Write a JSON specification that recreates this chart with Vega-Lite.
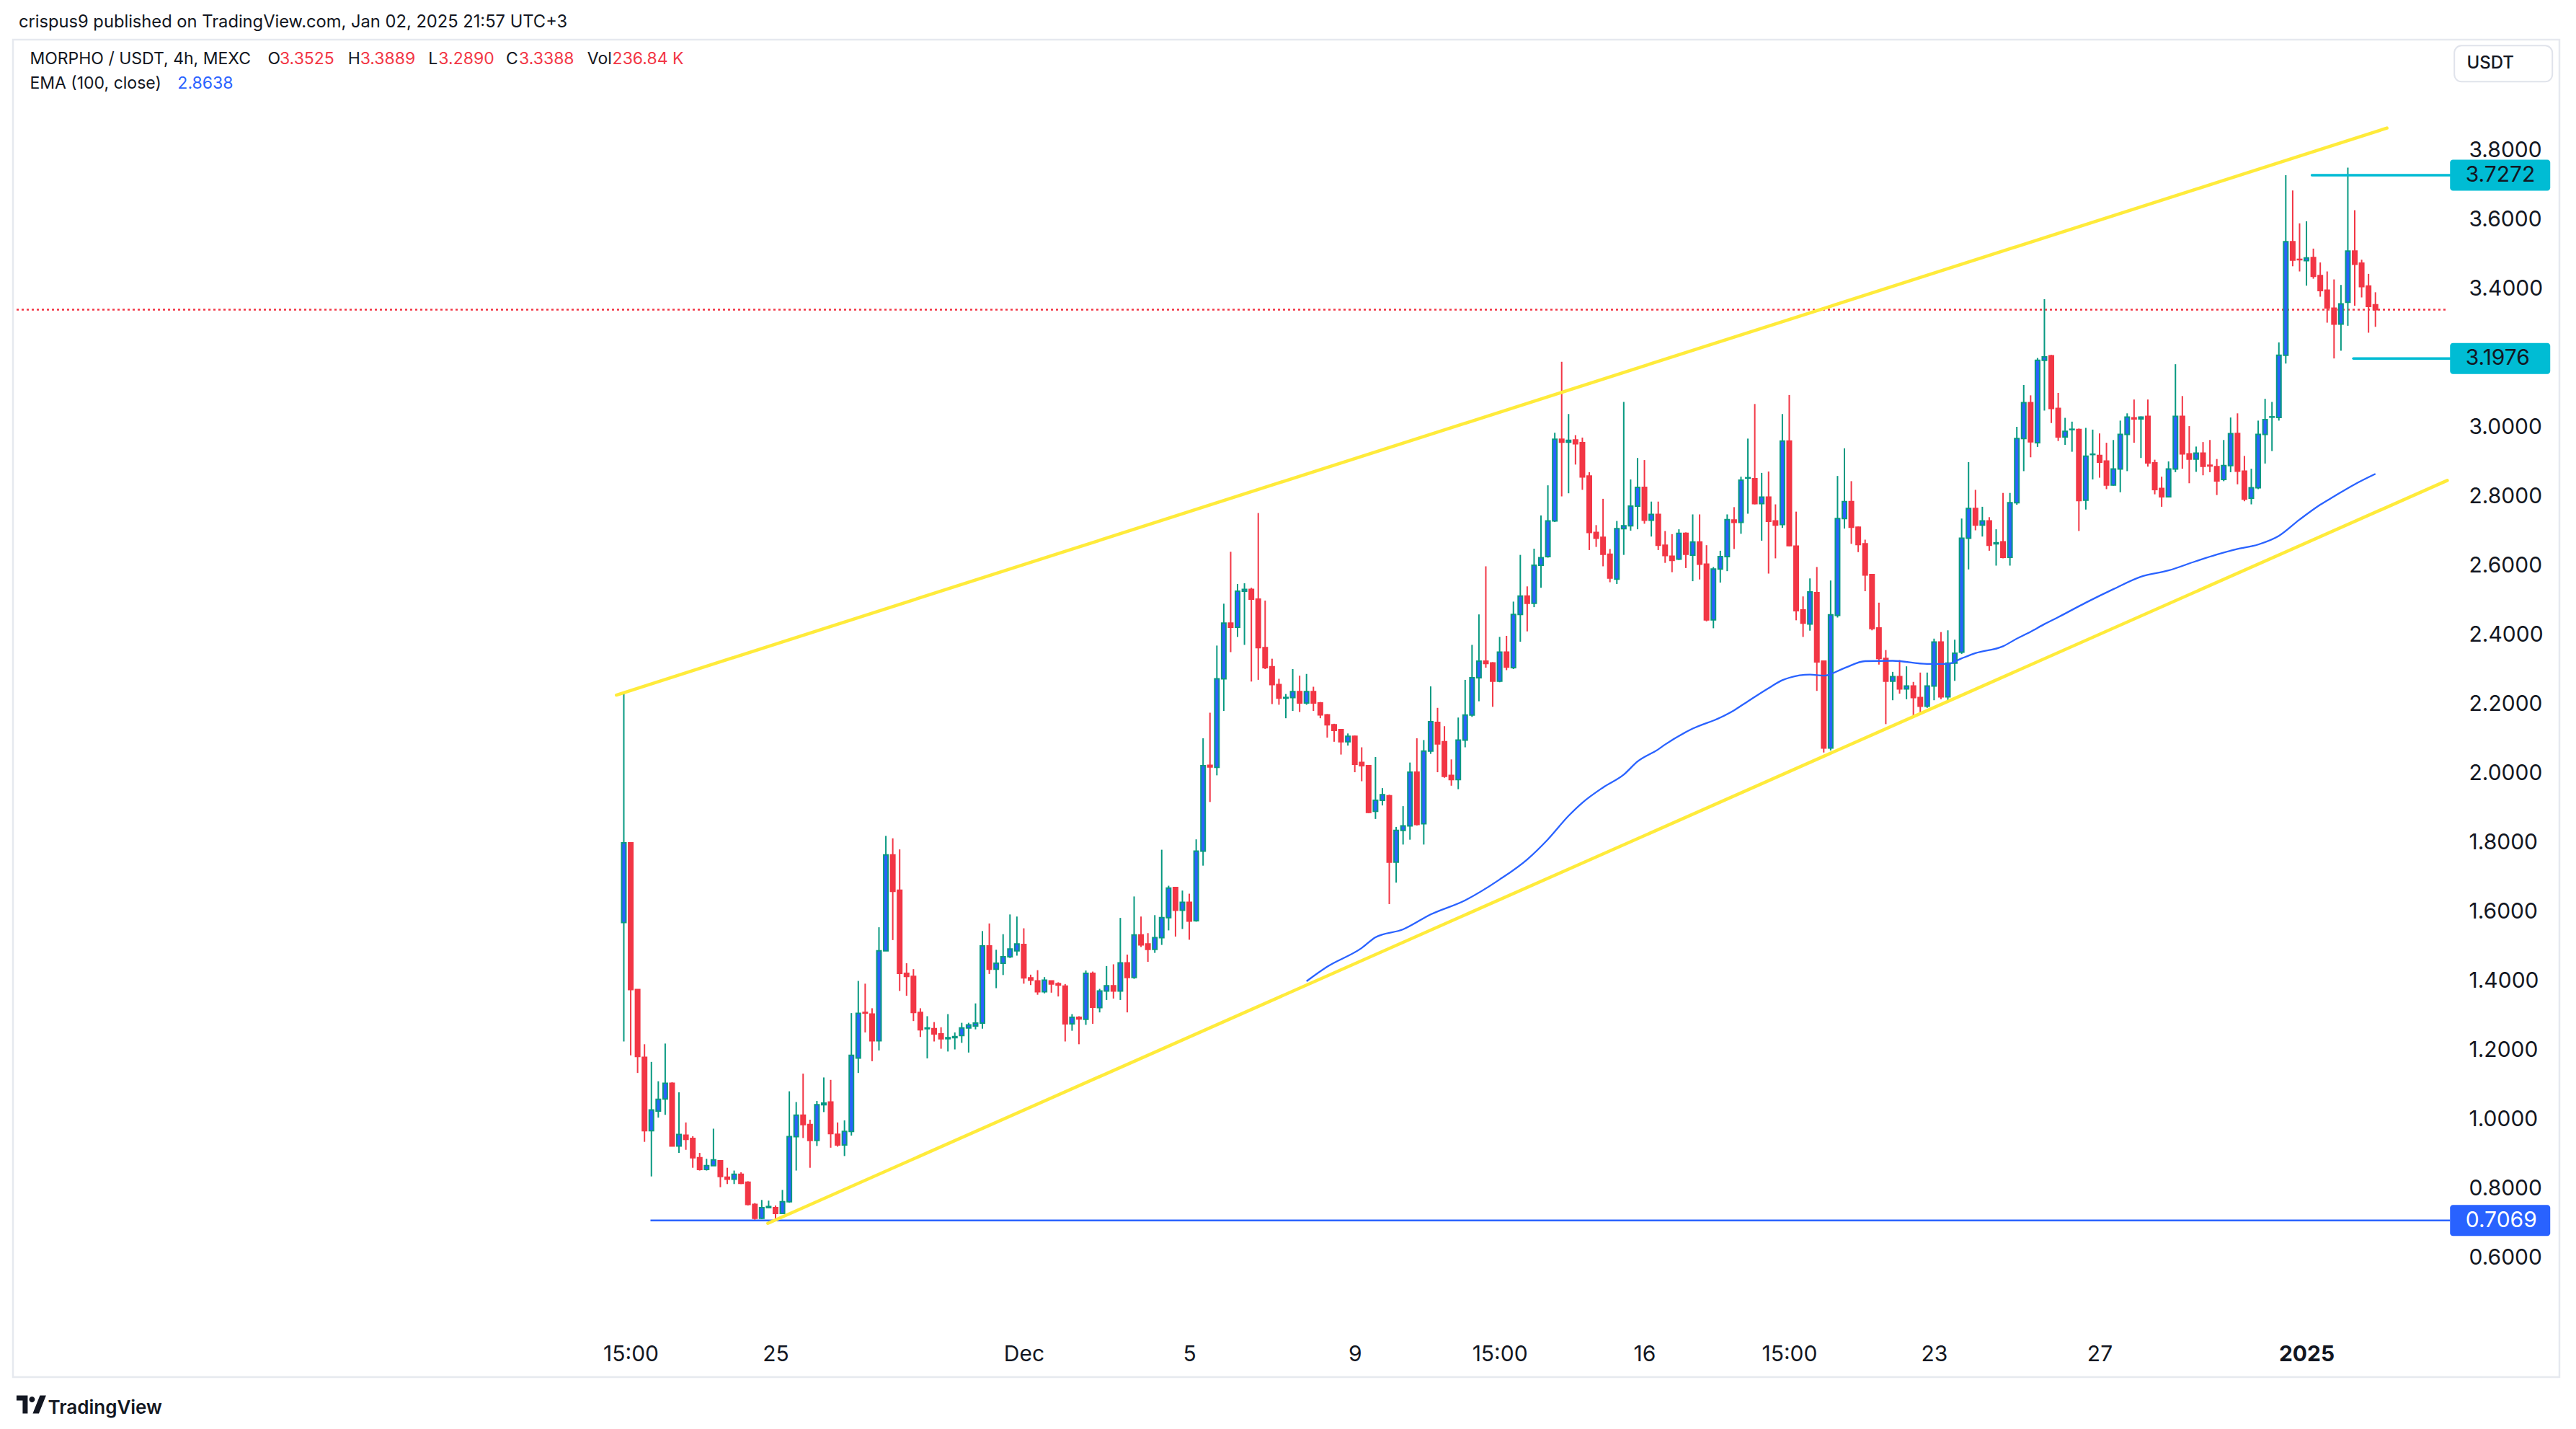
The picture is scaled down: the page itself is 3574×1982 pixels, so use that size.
{
  "$schema": "https://vega.github.io/schema/vega-lite/v6.json",
  "width": 3533,
  "height": 1855,
  "autosize": {"type": "none"},
  "padding": {"left": 18, "top": 55, "right": 23, "bottom": 72},
  "background": "white",
  "config": {"view": {"stroke": "#E6E9EF", "strokeWidth": 2.5}, "font": "Inter"},
  "encoding": {
    "x": {"field": "t", "type": "temporal", "title": "TradingView",
      "scale": {"domain": [{"year": 2024, "month": 11, "date": 6, "hours": 18, "minutes": 47}, {"year": 2025, "month": 1, "date": 7, "hours": 3, "minutes": 38}]},
      "axis": {
        "values": [
          {"year": 2024, "month": 11, "date": 21, "hours": 15},
          {"year": 2024, "month": 11, "date": 25, "hours": 3},
          {"year": 2024, "month": 12, "date": 1, "hours": 3},
          {"year": 2024, "month": 12, "date": 5, "hours": 3},
          {"year": 2024, "month": 12, "date": 9, "hours": 3},
          {"year": 2024, "month": 12, "date": 12, "hours": 15},
          {"year": 2024, "month": 12, "date": 16, "hours": 3},
          {"year": 2024, "month": 12, "date": 19, "hours": 15},
          {"year": 2024, "month": 12, "date": 23, "hours": 3},
          {"year": 2024, "month": 12, "date": 27, "hours": 3},
          {"year": 2025, "month": 1, "date": 1, "hours": 3}
        ],
        "labelExpr": "hours(datum.value) == 15 ? '15:00' : (month(datum.value) == 0 ? '2025' : (date(datum.value) == 1 ? 'Dec' : '' + date(datum.value)))",
        "labelFont": "Inter", "labelFontSize": 30, "labelColor": "#131722",
        "labelFontWeight": {"condition": {"test": "month(datum.value) == 0", "value": "bold"}, "value": "normal"},
        "domain": false, "ticks": false, "tickSize": 0, "grid": false,
        "labelPadding": 0, "offset": -47, "labelFlush": false, "labelOverlap": false, "labelBound": false,
        "titleX": 48, "titleY": 89, "titleAlign": "left", "titleBaseline": "middle",
        "titleFont": "Inter", "titleFontSize": 26, "titleFontWeight": 600, "titleColor": "#131722"
      }
    }
  },
  "layer": [
    {
      "data": {"values": [{"t": "2024-11-06T18:47", "t2": "2025-01-04T12:40", "p": 3.3388}], "format": {"parse": {"t": "date", "t2": "date"}}},
      "mark": {"type": "rule", "color": "#F23645", "strokeWidth": 2.5, "strokeDash": [3, 4]},
      "encoding": {"x2": {"field": "t2"}, "y": {"field": "p", "type": "quantitative", "title": null, "scale": {"domain": [0.2542, 4.1188], "zero": false, "nice": false}}}
    },
    {
      "data": {"values": [{"t": "2024-11-22T02:28", "t2": "2025-01-04T14:20", "p": 0.7069}], "format": {"parse": {"t": "date", "t2": "date"}}},
      "mark": {"type": "rule", "color": "#2962FF", "strokeWidth": 2.4},
      "encoding": {"x2": {"field": "t2"}, "y": {"field": "p", "type": "quantitative", "title": null, "scale": {"domain": [0.2542, 4.1188], "zero": false, "nice": false}}}
    },
    {
      "data": {"name": "candles"},
      "mark": {"type": "rule", "strokeWidth": 2},
      "encoding": {
        "y": {"field": "l", "type": "quantitative", "title": null, "scale": {"domain": [0.2542, 4.1188], "zero": false, "nice": false},
          "axis": {"orient": "right", "offset": -130, "values": [0.6, 0.8, 1.0, 1.2, 1.4, 1.6, 1.8, 2.0, 2.2, 2.4, 2.6, 2.8, 3.0, 3.4, 3.6, 3.8], "format": ".4f",
            "labelAlign": "left", "labelBaseline": "middle", "labelPadding": 4, "tickSize": 0, "ticks": false, "domain": false, "grid": false,
            "labelFont": "Inter", "labelFontSize": 30, "labelColor": "#131722", "labelOverlap": false, "labelBound": false, "labelFlush": false}},
        "y2": {"field": "h"},
        "color": {"condition": {"test": "datum.c >= datum.o", "value": "#089981"}, "value": "#F23645"}
      }
    },
    {
      "data": {"name": "candles"},
      "mark": {"type": "bar", "size": 6, "strokeWidth": 2},
      "encoding": {
        "y": {"field": "o", "type": "quantitative", "title": null, "scale": {"domain": [0.2542, 4.1188], "zero": false, "nice": false}},
        "y2": {"field": "c"},
        "fill": {"condition": {"test": "datum.c >= datum.o", "value": "#2962FF"}, "value": "#F23645"},
        "stroke": {"condition": {"test": "datum.c >= datum.o", "value": "#089981"}, "value": "#F23645"}
      }
    },
    {
      "data": {"name": "ema"},
      "mark": {"type": "line", "color": "#2962FF", "strokeWidth": 2.3, "interpolate": "monotone"},
      "encoding": {"y": {"field": "p", "type": "quantitative", "title": null, "scale": {"domain": [0.2542, 4.1188], "zero": false, "nice": false}}}
    },
    {
      "data": {"values": [
        {"t": "2024-11-21T06:42", "t2": "2025-01-03T01:40", "p": 2.225, "p2": 3.8633},
        {"t": "2024-11-24T22:33", "t2": "2025-01-04T12:40", "p": 0.6985, "p2": 2.845}
      ], "format": {"parse": {"t": "date", "t2": "date"}}},
      "mark": {"type": "rule", "color": "#FFEB3B", "strokeWidth": 4.5, "strokeCap": "round"},
      "encoding": {"x2": {"field": "t2"}, "y": {"field": "p", "type": "quantitative", "title": null, "scale": {"domain": [0.2542, 4.1188], "zero": false, "nice": false}}, "y2": {"field": "p2"}}
    },
    {
      "data": {"values": [
        {"t": "2025-01-01T06:08", "t2": "2025-01-04T14:20", "p": 3.7272},
        {"t": "2025-01-02T06:12", "t2": "2025-01-04T14:20", "p": 3.1976}
      ], "format": {"parse": {"t": "date", "t2": "date"}}},
      "mark": {"type": "rule", "color": "#00BCD4", "strokeWidth": 3.5, "strokeCap": "round"},
      "encoding": {"x2": {"field": "t2"}, "y": {"field": "p", "type": "quantitative", "title": null, "scale": {"domain": [0.2542, 4.1188], "zero": false, "nice": false}}}
    },
    {
      "data": {"name": "pricelabels"},
      "mark": {"type": "point", "filled": true, "opacity": 1, "strokeWidth": 0, "size": 19321,
        "shape": "M-0.9424,-0.3094 H0.9424 A0.0576,0.0576 0 0 1 1,-0.2518 V0.2518 A0.0576,0.0576 0 0 1 0.9424,0.3094 H-0.9424 A0.0576,0.0576 0 0 1 -1,0.2518 V-0.2518 A0.0576,0.0576 0 0 1 -0.9424,-0.3094 Z"},
      "encoding": {
        "y": {"field": "p", "type": "quantitative", "title": null, "scale": {"domain": [0.2542, 4.1188], "zero": false, "nice": false}},
        "fill": {"condition": {"test": "datum.kind == 'blue'", "value": "#2962FF"}, "value": "#00BCD4"}
      }
    },
    {
      "data": {"name": "pricelabels"},
      "mark": {"type": "text", "align": "left", "baseline": "middle", "font": "Inter", "fontSize": 30, "dx": -48},
      "encoding": {
        "y": {"field": "p", "type": "quantitative", "title": null, "scale": {"domain": [0.2542, 4.1188], "zero": false, "nice": false}},
        "text": {"field": "label"},
        "color": {"condition": {"test": "datum.kind == 'blue'", "value": "#FFFFFF"}, "value": "#131722"}
      }
    },
    {
      "data": {"name": "currency"},
      "mark": {"type": "point", "filled": true, "opacity": 1, "fill": "#FFFFFF", "stroke": "#E0E3EB", "strokeWidth": 2, "size": 18496,
        "shape": "M-0.853,-0.3676 H0.853 A0.147,0.147 0 0 1 1,-0.2206 V0.2206 A0.147,0.147 0 0 1 0.853,0.3676 H-0.853 A0.147,0.147 0 0 1 -1,0.2206 V-0.2206 A0.147,0.147 0 0 1 -0.853,-0.3676 Z"},
      "encoding": {
        "y": {"field": "p", "type": "quantitative", "title": null, "scale": {"domain": [0.2542, 4.1188], "zero": false, "nice": false}}
      }
    },
    {
      "data": {"name": "currency"},
      "mark": {"type": "text", "align": "center", "baseline": "middle", "font": "Inter", "fontSize": 24, "fontWeight": 500, "color": "#131722", "dx": -18},
      "encoding": {
        "y": {"field": "p", "type": "quantitative", "title": null, "scale": {"domain": [0.2542, 4.1188], "zero": false, "nice": false}},
        "text": {"field": "label"}
      }
    },
    {
      "data": {"name": "logo"},
      "mark": {"type": "point", "filled": true, "opacity": 1, "fill": "#131722", "strokeWidth": 0, "size": 1681,
        "shape": "M-1,-0.61 H-0.244 V0.61 H-0.585 V-0.268 H-1 Z M-0.146,-0.341 A0.195,0.195 0 1 0 0.244,-0.341 A0.195,0.195 0 1 0 -0.146,-0.341 Z M0.585,-0.61 H1 L0.512,0.61 H0.098 Z"},
      "encoding": {
        "y": {"field": "p", "type": "quantitative", "title": null, "scale": {"domain": [0.2542, 4.1188], "zero": false, "nice": false}}
      }
    },
    {
      "data": {"name": "legend"},
      "mark": {"type": "text", "align": "left", "baseline": "alphabetic", "font": "Inter"},
      "encoding": {
        "y": {"field": "p", "type": "quantitative", "title": null, "scale": {"domain": [0.2542, 4.1188], "zero": false, "nice": false}},
        "text": {"field": "text"},
        "size": {"condition": {"test": "datum.role == 'title'", "value": 23.7}, "value": 23},
        "color": {"condition": [{"test": "datum.role == 'value'", "value": "#F23645"}, {"test": "datum.role == 'ema'", "value": "#2962FF"}], "value": "#131722"}
      }
    }
  ],
  "datasets": {
    "pricelabels": [
      {"t": "2025-01-05T19:20", "p": 3.7272, "label": "3.7272", "kind": "cyan"},
      {"t": "2025-01-05T19:20", "p": 3.1976, "label": "3.1976", "kind": "cyan"},
      {"t": "2025-01-05T19:20", "p": 0.7069, "label": "0.7069", "kind": "blue"}
    ],
    "currency": [
      {"t": "2025-01-05T21:12", "p": 4.0494, "label": "USDT"}
    ],
    "logo": [
      {"t": "2024-11-07T03:19", "p": 0.175}
    ],
    "legend": [
      {"t": "2024-11-06T20:01", "p": 4.1542, "text": "crispus9 published on TradingView.com, Jan 02, 2025 21:57 UTC+3", "role": "title"},
      {"t": "2024-11-07T02:29", "p": 4.047, "text": "MORPHO / USDT, 4h, MEXC", "role": "label"},
      {"t": "2024-11-12T20:31", "p": 4.047, "text": "O", "role": "label"},
      {"t": "2024-11-13T03:21", "p": 4.047, "text": "3.3525", "role": "value"},
      {"t": "2024-11-14T18:58", "p": 4.047, "text": "H", "role": "label"},
      {"t": "2024-11-15T02:03", "p": 4.047, "text": "3.3889", "role": "value"},
      {"t": "2024-11-16T17:39", "p": 4.047, "text": "L", "role": "label"},
      {"t": "2024-11-16T23:29", "p": 4.047, "text": "3.2890", "role": "value"},
      {"t": "2024-11-18T14:40", "p": 4.047, "text": "C", "role": "label"},
      {"t": "2024-11-18T22:11", "p": 4.047, "text": "3.3388", "role": "value"},
      {"t": "2024-11-20T13:47", "p": 4.047, "text": "Vol", "role": "label"},
      {"t": "2024-11-21T04:22", "p": 4.047, "text": "236.84 K", "role": "value"},
      {"t": "2024-11-07T02:29", "p": 3.977, "text": "EMA (100, close)", "role": "label"},
      {"t": "2024-11-10T16:10", "p": 3.977, "text": "2.8638", "role": "ema"}
    ],
    "ema": [
      {"t": "2024-12-07T23:00", "p": 1.398}, {"t": "2024-12-08T11:00", "p": 1.440}, {"t": "2024-12-09T07:00", "p": 1.494},
      {"t": "2024-12-09T15:00", "p": 1.525}, {"t": "2024-12-10T07:00", "p": 1.548}, {"t": "2024-12-10T23:00", "p": 1.591},
      {"t": "2024-12-11T19:00", "p": 1.632}, {"t": "2024-12-12T15:00", "p": 1.692}, {"t": "2024-12-13T07:00", "p": 1.750},
      {"t": "2024-12-13T19:00", "p": 1.808}, {"t": "2024-12-14T07:00", "p": 1.876}, {"t": "2024-12-14T15:00", "p": 1.914},
      {"t": "2024-12-15T03:00", "p": 1.958}, {"t": "2024-12-15T15:00", "p": 1.995}, {"t": "2024-12-15T23:00", "p": 2.033},
      {"t": "2024-12-16T11:00", "p": 2.068}, {"t": "2024-12-16T15:00", "p": 2.082}, {"t": "2024-12-17T07:00", "p": 2.128},
      {"t": "2024-12-17T23:00", "p": 2.160}, {"t": "2024-12-18T07:00", "p": 2.181}, {"t": "2024-12-18T15:00", "p": 2.207},
      {"t": "2024-12-19T03:00", "p": 2.245}, {"t": "2024-12-19T11:00", "p": 2.268}, {"t": "2024-12-19T15:00", "p": 2.275},
      {"t": "2024-12-20T03:00", "p": 2.284}, {"t": "2024-12-20T11:00", "p": 2.281}, {"t": "2024-12-20T23:00", "p": 2.303},
      {"t": "2024-12-21T11:00", "p": 2.323}, {"t": "2024-12-22T03:00", "p": 2.324}, {"t": "2024-12-22T23:00", "p": 2.315},
      {"t": "2024-12-23T11:00", "p": 2.315}, {"t": "2024-12-23T19:00", "p": 2.331}, {"t": "2024-12-24T03:00", "p": 2.346},
      {"t": "2024-12-24T19:00", "p": 2.366}, {"t": "2024-12-25T03:00", "p": 2.388}, {"t": "2024-12-25T11:00", "p": 2.408},
      {"t": "2024-12-25T19:00", "p": 2.430}, {"t": "2024-12-26T03:00", "p": 2.450}, {"t": "2024-12-26T19:00", "p": 2.492},
      {"t": "2024-12-27T11:00", "p": 2.531}, {"t": "2024-12-28T03:00", "p": 2.567}, {"t": "2024-12-28T19:00", "p": 2.585},
      {"t": "2024-12-29T11:00", "p": 2.612}, {"t": "2024-12-29T23:00", "p": 2.631}, {"t": "2024-12-30T11:00", "p": 2.647},
      {"t": "2024-12-30T23:00", "p": 2.660}, {"t": "2024-12-31T11:00", "p": 2.685}, {"t": "2024-12-31T23:00", "p": 2.732},
      {"t": "2025-01-01T11:00", "p": 2.775}, {"t": "2025-01-01T19:00", "p": 2.799}, {"t": "2025-01-02T07:00", "p": 2.834},
      {"t": "2025-01-02T19:00", "p": 2.864}
    ],
    "candles": [
      {"t": "2024-11-21T11:00", "o": 1.568, "h": 2.231, "l": 1.224, "c": 1.798},
      {"t": "2024-11-21T15:00", "o": 1.798, "h": 1.798, "l": 1.184, "c": 1.374},
      {"t": "2024-11-21T19:00", "o": 1.374, "h": 1.374, "l": 1.133, "c": 1.181},
      {"t": "2024-11-21T23:00", "o": 1.178, "h": 1.216, "l": 0.934, "c": 0.966},
      {"t": "2024-11-22T03:00", "o": 0.966, "h": 1.165, "l": 0.834, "c": 1.026},
      {"t": "2024-11-22T07:00", "o": 1.023, "h": 1.109, "l": 1.004, "c": 1.057},
      {"t": "2024-11-22T11:00", "o": 1.058, "h": 1.218, "l": 1.012, "c": 1.103},
      {"t": "2024-11-22T15:00", "o": 1.103, "h": 1.106, "l": 0.922, "c": 0.922},
      {"t": "2024-11-22T19:00", "o": 0.922, "h": 1.077, "l": 0.902, "c": 0.955},
      {"t": "2024-11-22T23:00", "o": 0.953, "h": 0.990, "l": 0.911, "c": 0.941},
      {"t": "2024-11-23T03:00", "o": 0.944, "h": 0.950, "l": 0.859, "c": 0.888},
      {"t": "2024-11-23T07:00", "o": 0.888, "h": 0.902, "l": 0.851, "c": 0.854},
      {"t": "2024-11-23T11:00", "o": 0.854, "h": 0.885, "l": 0.851, "c": 0.865},
      {"t": "2024-11-23T15:00", "o": 0.865, "h": 0.972, "l": 0.865, "c": 0.882},
      {"t": "2024-11-23T19:00", "o": 0.879, "h": 0.881, "l": 0.803, "c": 0.834},
      {"t": "2024-11-23T23:00", "o": 0.832, "h": 0.859, "l": 0.812, "c": 0.826},
      {"t": "2024-11-24T03:00", "o": 0.826, "h": 0.851, "l": 0.812, "c": 0.840},
      {"t": "2024-11-24T07:00", "o": 0.840, "h": 0.846, "l": 0.812, "c": 0.814},
      {"t": "2024-11-24T11:00", "o": 0.817, "h": 0.820, "l": 0.750, "c": 0.753},
      {"t": "2024-11-24T15:00", "o": 0.753, "h": 0.757, "l": 0.709, "c": 0.713},
      {"t": "2024-11-24T19:00", "o": 0.713, "h": 0.766, "l": 0.711, "c": 0.744},
      {"t": "2024-11-24T23:00", "o": 0.744, "h": 0.764, "l": 0.742, "c": 0.747},
      {"t": "2024-11-25T03:00", "o": 0.744, "h": 0.750, "l": 0.7069, "c": 0.727},
      {"t": "2024-11-25T07:00", "o": 0.727, "h": 0.795, "l": 0.725, "c": 0.761},
      {"t": "2024-11-25T11:00", "o": 0.761, "h": 1.080, "l": 0.758, "c": 0.949},
      {"t": "2024-11-25T15:00", "o": 0.949, "h": 1.049, "l": 0.851, "c": 1.011},
      {"t": "2024-11-25T19:00", "o": 1.011, "h": 1.131, "l": 0.945, "c": 0.984},
      {"t": "2024-11-25T23:00", "o": 0.984, "h": 0.998, "l": 0.859, "c": 0.938},
      {"t": "2024-11-26T03:00", "o": 0.938, "h": 1.052, "l": 0.922, "c": 1.041},
      {"t": "2024-11-26T07:00", "o": 1.041, "h": 1.120, "l": 1.020, "c": 1.046},
      {"t": "2024-11-26T11:00", "o": 1.049, "h": 1.113, "l": 0.917, "c": 0.958},
      {"t": "2024-11-26T15:00", "o": 0.956, "h": 0.990, "l": 0.920, "c": 0.925},
      {"t": "2024-11-26T19:00", "o": 0.925, "h": 0.996, "l": 0.893, "c": 0.964},
      {"t": "2024-11-26T23:00", "o": 0.964, "h": 1.306, "l": 0.952, "c": 1.184},
      {"t": "2024-11-27T03:00", "o": 1.176, "h": 1.399, "l": 1.133, "c": 1.305},
      {"t": "2024-11-27T07:00", "o": 1.308, "h": 1.391, "l": 1.250, "c": 1.306},
      {"t": "2024-11-27T11:00", "o": 1.303, "h": 1.320, "l": 1.167, "c": 1.226},
      {"t": "2024-11-27T15:00", "o": 1.226, "h": 1.554, "l": 1.198, "c": 1.486},
      {"t": "2024-11-27T19:00", "o": 1.486, "h": 1.818, "l": 1.486, "c": 1.763},
      {"t": "2024-11-27T23:00", "o": 1.763, "h": 1.811, "l": 1.517, "c": 1.658},
      {"t": "2024-11-28T03:00", "o": 1.661, "h": 1.779, "l": 1.370, "c": 1.421},
      {"t": "2024-11-28T07:00", "o": 1.421, "h": 1.450, "l": 1.356, "c": 1.412},
      {"t": "2024-11-28T11:00", "o": 1.412, "h": 1.433, "l": 1.283, "c": 1.308},
      {"t": "2024-11-28T15:00", "o": 1.308, "h": 1.320, "l": 1.237, "c": 1.258},
      {"t": "2024-11-28T19:00", "o": 1.261, "h": 1.297, "l": 1.175, "c": 1.263},
      {"t": "2024-11-28T23:00", "o": 1.261, "h": 1.280, "l": 1.224, "c": 1.246},
      {"t": "2024-11-29T03:00", "o": 1.246, "h": 1.265, "l": 1.203, "c": 1.232},
      {"t": "2024-11-29T07:00", "o": 1.232, "h": 1.303, "l": 1.195, "c": 1.235},
      {"t": "2024-11-29T11:00", "o": 1.235, "h": 1.250, "l": 1.201, "c": 1.238},
      {"t": "2024-11-29T15:00", "o": 1.241, "h": 1.278, "l": 1.220, "c": 1.263},
      {"t": "2024-11-29T19:00", "o": 1.263, "h": 1.278, "l": 1.192, "c": 1.272},
      {"t": "2024-11-29T23:00", "o": 1.269, "h": 1.334, "l": 1.259, "c": 1.277},
      {"t": "2024-11-30T03:00", "o": 1.277, "h": 1.543, "l": 1.261, "c": 1.500},
      {"t": "2024-11-30T07:00", "o": 1.500, "h": 1.565, "l": 1.419, "c": 1.433},
      {"t": "2024-11-30T11:00", "o": 1.433, "h": 1.489, "l": 1.378, "c": 1.450},
      {"t": "2024-11-30T15:00", "o": 1.450, "h": 1.534, "l": 1.416, "c": 1.469},
      {"t": "2024-11-30T19:00", "o": 1.469, "h": 1.591, "l": 1.465, "c": 1.491},
      {"t": "2024-11-30T23:00", "o": 1.486, "h": 1.585, "l": 1.472, "c": 1.506},
      {"t": "2024-12-01T03:00", "o": 1.504, "h": 1.551, "l": 1.391, "c": 1.408},
      {"t": "2024-12-01T07:00", "o": 1.408, "h": 1.417, "l": 1.387, "c": 1.401},
      {"t": "2024-12-01T11:00", "o": 1.399, "h": 1.430, "l": 1.359, "c": 1.368},
      {"t": "2024-12-01T15:00", "o": 1.368, "h": 1.410, "l": 1.363, "c": 1.401},
      {"t": "2024-12-01T19:00", "o": 1.399, "h": 1.400, "l": 1.365, "c": 1.390},
      {"t": "2024-12-01T23:00", "o": 1.391, "h": 1.395, "l": 1.354, "c": 1.387},
      {"t": "2024-12-02T03:00", "o": 1.384, "h": 1.390, "l": 1.224, "c": 1.275},
      {"t": "2024-12-02T07:00", "o": 1.275, "h": 1.303, "l": 1.255, "c": 1.294},
      {"t": "2024-12-02T11:00", "o": 1.294, "h": 1.297, "l": 1.216, "c": 1.289},
      {"t": "2024-12-02T15:00", "o": 1.288, "h": 1.429, "l": 1.272, "c": 1.421},
      {"t": "2024-12-02T19:00", "o": 1.421, "h": 1.426, "l": 1.275, "c": 1.323},
      {"t": "2024-12-02T23:00", "o": 1.322, "h": 1.376, "l": 1.308, "c": 1.370},
      {"t": "2024-12-03T03:00", "o": 1.370, "h": 1.442, "l": 1.344, "c": 1.385},
      {"t": "2024-12-03T07:00", "o": 1.385, "h": 1.447, "l": 1.348, "c": 1.370},
      {"t": "2024-12-03T11:00", "o": 1.370, "h": 1.581, "l": 1.344, "c": 1.451},
      {"t": "2024-12-03T15:00", "o": 1.451, "h": 1.475, "l": 1.308, "c": 1.409},
      {"t": "2024-12-03T19:00", "o": 1.409, "h": 1.643, "l": 1.405, "c": 1.532},
      {"t": "2024-12-03T23:00", "o": 1.532, "h": 1.585, "l": 1.497, "c": 1.503},
      {"t": "2024-12-04T03:00", "o": 1.506, "h": 1.537, "l": 1.454, "c": 1.490},
      {"t": "2024-12-04T07:00", "o": 1.490, "h": 1.589, "l": 1.480, "c": 1.524},
      {"t": "2024-12-04T11:00", "o": 1.524, "h": 1.778, "l": 1.503, "c": 1.582},
      {"t": "2024-12-04T15:00", "o": 1.582, "h": 1.674, "l": 1.545, "c": 1.667},
      {"t": "2024-12-04T19:00", "o": 1.669, "h": 1.669, "l": 1.527, "c": 1.603},
      {"t": "2024-12-04T23:00", "o": 1.603, "h": 1.660, "l": 1.549, "c": 1.626},
      {"t": "2024-12-05T03:00", "o": 1.626, "h": 1.651, "l": 1.518, "c": 1.572},
      {"t": "2024-12-05T07:00", "o": 1.573, "h": 1.808, "l": 1.570, "c": 1.774},
      {"t": "2024-12-05T11:00", "o": 1.774, "h": 2.100, "l": 1.732, "c": 2.021},
      {"t": "2024-12-05T15:00", "o": 2.022, "h": 2.174, "l": 1.916, "c": 2.017},
      {"t": "2024-12-05T19:00", "o": 2.016, "h": 2.368, "l": 1.993, "c": 2.272},
      {"t": "2024-12-05T23:00", "o": 2.272, "h": 2.489, "l": 2.179, "c": 2.433},
      {"t": "2024-12-06T03:00", "o": 2.433, "h": 2.639, "l": 2.349, "c": 2.421},
      {"t": "2024-12-06T07:00", "o": 2.421, "h": 2.546, "l": 2.393, "c": 2.525},
      {"t": "2024-12-06T11:00", "o": 2.525, "h": 2.548, "l": 2.370, "c": 2.530},
      {"t": "2024-12-06T15:00", "o": 2.530, "h": 2.535, "l": 2.264, "c": 2.502},
      {"t": "2024-12-06T19:00", "o": 2.502, "h": 2.751, "l": 2.269, "c": 2.362},
      {"t": "2024-12-06T23:00", "o": 2.362, "h": 2.498, "l": 2.300, "c": 2.304},
      {"t": "2024-12-07T03:00", "o": 2.307, "h": 2.330, "l": 2.199, "c": 2.255},
      {"t": "2024-12-07T07:00", "o": 2.255, "h": 2.272, "l": 2.197, "c": 2.216},
      {"t": "2024-12-07T11:00", "o": 2.216, "h": 2.228, "l": 2.158, "c": 2.218},
      {"t": "2024-12-07T15:00", "o": 2.218, "h": 2.300, "l": 2.179, "c": 2.235},
      {"t": "2024-12-07T19:00", "o": 2.235, "h": 2.281, "l": 2.176, "c": 2.202},
      {"t": "2024-12-07T23:00", "o": 2.202, "h": 2.286, "l": 2.197, "c": 2.235},
      {"t": "2024-12-08T03:00", "o": 2.235, "h": 2.249, "l": 2.179, "c": 2.202},
      {"t": "2024-12-08T07:00", "o": 2.202, "h": 2.205, "l": 2.158, "c": 2.168},
      {"t": "2024-12-08T11:00", "o": 2.168, "h": 2.170, "l": 2.102, "c": 2.139},
      {"t": "2024-12-08T15:00", "o": 2.139, "h": 2.142, "l": 2.090, "c": 2.123},
      {"t": "2024-12-08T19:00", "o": 2.125, "h": 2.127, "l": 2.053, "c": 2.090},
      {"t": "2024-12-08T23:00", "o": 2.090, "h": 2.114, "l": 2.079, "c": 2.106},
      {"t": "2024-12-09T03:00", "o": 2.106, "h": 2.108, "l": 2.002, "c": 2.025},
      {"t": "2024-12-09T07:00", "o": 2.030, "h": 2.074, "l": 1.976, "c": 2.021},
      {"t": "2024-12-09T11:00", "o": 2.021, "h": 2.023, "l": 1.884, "c": 1.886},
      {"t": "2024-12-09T15:00", "o": 1.889, "h": 2.046, "l": 1.867, "c": 1.921},
      {"t": "2024-12-09T19:00", "o": 1.921, "h": 1.956, "l": 1.906, "c": 1.937},
      {"t": "2024-12-09T23:00", "o": 1.934, "h": 1.937, "l": 1.621, "c": 1.742},
      {"t": "2024-12-10T03:00", "o": 1.742, "h": 1.844, "l": 1.683, "c": 1.834},
      {"t": "2024-12-10T07:00", "o": 1.834, "h": 1.904, "l": 1.793, "c": 1.847},
      {"t": "2024-12-10T11:00", "o": 1.847, "h": 2.030, "l": 1.807, "c": 2.002},
      {"t": "2024-12-10T15:00", "o": 2.002, "h": 2.100, "l": 1.848, "c": 1.851},
      {"t": "2024-12-10T19:00", "o": 1.853, "h": 2.095, "l": 1.793, "c": 2.063},
      {"t": "2024-12-10T23:00", "o": 2.063, "h": 2.250, "l": 2.055, "c": 2.148},
      {"t": "2024-12-11T03:00", "o": 2.146, "h": 2.188, "l": 2.002, "c": 2.084},
      {"t": "2024-12-11T07:00", "o": 2.090, "h": 2.135, "l": 1.986, "c": 1.990},
      {"t": "2024-12-11T11:00", "o": 1.993, "h": 2.039, "l": 1.963, "c": 1.981},
      {"t": "2024-12-11T15:00", "o": 1.981, "h": 2.160, "l": 1.953, "c": 2.095},
      {"t": "2024-12-11T19:00", "o": 2.095, "h": 2.269, "l": 2.074, "c": 2.167},
      {"t": "2024-12-11T23:00", "o": 2.167, "h": 2.370, "l": 2.162, "c": 2.275},
      {"t": "2024-12-12T03:00", "o": 2.275, "h": 2.458, "l": 2.207, "c": 2.323},
      {"t": "2024-12-12T07:00", "o": 2.323, "h": 2.597, "l": 2.304, "c": 2.316},
      {"t": "2024-12-12T11:00", "o": 2.318, "h": 2.320, "l": 2.191, "c": 2.265},
      {"t": "2024-12-12T15:00", "o": 2.265, "h": 2.393, "l": 2.262, "c": 2.349},
      {"t": "2024-12-12T19:00", "o": 2.349, "h": 2.396, "l": 2.297, "c": 2.306},
      {"t": "2024-12-12T23:00", "o": 2.304, "h": 2.495, "l": 2.300, "c": 2.458},
      {"t": "2024-12-13T03:00", "o": 2.458, "h": 2.630, "l": 2.379, "c": 2.511},
      {"t": "2024-12-13T07:00", "o": 2.511, "h": 2.539, "l": 2.409, "c": 2.490},
      {"t": "2024-12-13T11:00", "o": 2.490, "h": 2.648, "l": 2.479, "c": 2.600},
      {"t": "2024-12-13T15:00", "o": 2.600, "h": 2.744, "l": 2.535, "c": 2.622},
      {"t": "2024-12-13T19:00", "o": 2.625, "h": 2.831, "l": 2.622, "c": 2.728},
      {"t": "2024-12-13T23:00", "o": 2.728, "h": 2.983, "l": 2.725, "c": 2.964},
      {"t": "2024-12-14T03:00", "o": 2.964, "h": 3.188, "l": 2.799, "c": 2.956},
      {"t": "2024-12-14T07:00", "o": 2.956, "h": 3.037, "l": 2.808, "c": 2.961},
      {"t": "2024-12-14T11:00", "o": 2.962, "h": 2.976, "l": 2.891, "c": 2.951},
      {"t": "2024-12-14T15:00", "o": 2.954, "h": 2.969, "l": 2.818, "c": 2.855},
      {"t": "2024-12-14T19:00", "o": 2.858, "h": 2.869, "l": 2.644, "c": 2.695},
      {"t": "2024-12-14T23:00", "o": 2.695, "h": 2.716, "l": 2.653, "c": 2.678},
      {"t": "2024-12-15T03:00", "o": 2.681, "h": 2.792, "l": 2.597, "c": 2.632},
      {"t": "2024-12-15T07:00", "o": 2.632, "h": 2.647, "l": 2.551, "c": 2.563},
      {"t": "2024-12-15T11:00", "o": 2.560, "h": 2.728, "l": 2.546, "c": 2.706},
      {"t": "2024-12-15T15:00", "o": 2.706, "h": 3.072, "l": 2.630, "c": 2.714},
      {"t": "2024-12-15T19:00", "o": 2.714, "h": 2.848, "l": 2.700, "c": 2.771},
      {"t": "2024-12-15T23:00", "o": 2.771, "h": 2.910, "l": 2.704, "c": 2.825},
      {"t": "2024-12-16T03:00", "o": 2.825, "h": 2.904, "l": 2.720, "c": 2.730},
      {"t": "2024-12-16T07:00", "o": 2.730, "h": 2.784, "l": 2.683, "c": 2.747},
      {"t": "2024-12-16T11:00", "o": 2.747, "h": 2.784, "l": 2.644, "c": 2.658},
      {"t": "2024-12-16T15:00", "o": 2.658, "h": 2.699, "l": 2.607, "c": 2.628},
      {"t": "2024-12-16T19:00", "o": 2.626, "h": 2.690, "l": 2.580, "c": 2.614},
      {"t": "2024-12-16T23:00", "o": 2.618, "h": 2.704, "l": 2.615, "c": 2.692},
      {"t": "2024-12-17T03:00", "o": 2.692, "h": 2.695, "l": 2.592, "c": 2.632},
      {"t": "2024-12-17T07:00", "o": 2.629, "h": 2.747, "l": 2.554, "c": 2.667},
      {"t": "2024-12-17T11:00", "o": 2.667, "h": 2.747, "l": 2.559, "c": 2.603},
      {"t": "2024-12-17T15:00", "o": 2.603, "h": 2.658, "l": 2.438, "c": 2.442},
      {"t": "2024-12-17T19:00", "o": 2.442, "h": 2.595, "l": 2.418, "c": 2.589},
      {"t": "2024-12-17T23:00", "o": 2.589, "h": 2.642, "l": 2.550, "c": 2.625},
      {"t": "2024-12-18T03:00", "o": 2.625, "h": 2.747, "l": 2.583, "c": 2.732},
      {"t": "2024-12-18T07:00", "o": 2.731, "h": 2.768, "l": 2.647, "c": 2.724},
      {"t": "2024-12-18T11:00", "o": 2.724, "h": 2.856, "l": 2.691, "c": 2.846},
      {"t": "2024-12-18T15:00", "o": 2.852, "h": 2.966, "l": 2.749, "c": 2.853},
      {"t": "2024-12-18T19:00", "o": 2.850, "h": 3.066, "l": 2.776, "c": 2.778},
      {"t": "2024-12-18T23:00", "o": 2.778, "h": 2.867, "l": 2.671, "c": 2.797},
      {"t": "2024-12-19T03:00", "o": 2.797, "h": 2.871, "l": 2.576, "c": 2.727},
      {"t": "2024-12-19T07:00", "o": 2.728, "h": 2.776, "l": 2.620, "c": 2.716},
      {"t": "2024-12-19T11:00", "o": 2.718, "h": 3.037, "l": 2.708, "c": 2.959},
      {"t": "2024-12-19T15:00", "o": 2.959, "h": 3.092, "l": 2.655, "c": 2.657},
      {"t": "2024-12-19T19:00", "o": 2.655, "h": 2.755, "l": 2.441, "c": 2.469},
      {"t": "2024-12-19T23:00", "o": 2.471, "h": 2.510, "l": 2.393, "c": 2.433},
      {"t": "2024-12-20T03:00", "o": 2.430, "h": 2.562, "l": 2.411, "c": 2.523},
      {"t": "2024-12-20T07:00", "o": 2.521, "h": 2.595, "l": 2.237, "c": 2.321},
      {"t": "2024-12-20T11:00", "o": 2.323, "h": 2.325, "l": 2.059, "c": 2.072},
      {"t": "2024-12-20T15:00", "o": 2.072, "h": 2.556, "l": 2.065, "c": 2.457},
      {"t": "2024-12-20T19:00", "o": 2.455, "h": 2.858, "l": 2.449, "c": 2.735},
      {"t": "2024-12-20T23:00", "o": 2.735, "h": 2.938, "l": 2.706, "c": 2.784},
      {"t": "2024-12-21T03:00", "o": 2.784, "h": 2.843, "l": 2.662, "c": 2.710},
      {"t": "2024-12-21T07:00", "o": 2.710, "h": 2.712, "l": 2.638, "c": 2.660},
      {"t": "2024-12-21T11:00", "o": 2.662, "h": 2.674, "l": 2.525, "c": 2.572},
      {"t": "2024-12-21T15:00", "o": 2.573, "h": 2.575, "l": 2.412, "c": 2.417},
      {"t": "2024-12-21T19:00", "o": 2.419, "h": 2.492, "l": 2.313, "c": 2.331},
      {"t": "2024-12-21T23:00", "o": 2.331, "h": 2.355, "l": 2.141, "c": 2.265},
      {"t": "2024-12-22T03:00", "o": 2.265, "h": 2.292, "l": 2.210, "c": 2.278},
      {"t": "2024-12-22T07:00", "o": 2.278, "h": 2.326, "l": 2.229, "c": 2.243},
      {"t": "2024-12-22T11:00", "o": 2.243, "h": 2.308, "l": 2.213, "c": 2.251},
      {"t": "2024-12-22T15:00", "o": 2.251, "h": 2.263, "l": 2.159, "c": 2.218},
      {"t": "2024-12-22T19:00", "o": 2.218, "h": 2.290, "l": 2.173, "c": 2.193},
      {"t": "2024-12-22T23:00", "o": 2.193, "h": 2.290, "l": 2.188, "c": 2.251},
      {"t": "2024-12-23T03:00", "o": 2.251, "h": 2.388, "l": 2.210, "c": 2.378},
      {"t": "2024-12-23T07:00", "o": 2.378, "h": 2.407, "l": 2.213, "c": 2.220},
      {"t": "2024-12-23T11:00", "o": 2.220, "h": 2.412, "l": 2.206, "c": 2.317},
      {"t": "2024-12-23T15:00", "o": 2.317, "h": 2.385, "l": 2.266, "c": 2.346},
      {"t": "2024-12-23T19:00", "o": 2.349, "h": 2.735, "l": 2.344, "c": 2.678},
      {"t": "2024-12-23T23:00", "o": 2.678, "h": 2.898, "l": 2.588, "c": 2.764},
      {"t": "2024-12-24T03:00", "o": 2.764, "h": 2.818, "l": 2.701, "c": 2.716},
      {"t": "2024-12-24T07:00", "o": 2.716, "h": 2.769, "l": 2.683, "c": 2.728},
      {"t": "2024-12-24T11:00", "o": 2.728, "h": 2.739, "l": 2.642, "c": 2.658},
      {"t": "2024-12-24T15:00", "o": 2.662, "h": 2.704, "l": 2.599, "c": 2.665},
      {"t": "2024-12-24T19:00", "o": 2.668, "h": 2.809, "l": 2.620, "c": 2.623},
      {"t": "2024-12-24T23:00", "o": 2.623, "h": 2.809, "l": 2.599, "c": 2.781},
      {"t": "2024-12-25T03:00", "o": 2.781, "h": 3.000, "l": 2.775, "c": 2.966},
      {"t": "2024-12-25T07:00", "o": 2.966, "h": 3.121, "l": 2.872, "c": 3.070},
      {"t": "2024-12-25T11:00", "o": 3.070, "h": 3.091, "l": 2.912, "c": 2.957},
      {"t": "2024-12-25T15:00", "o": 2.954, "h": 3.199, "l": 2.942, "c": 3.192},
      {"t": "2024-12-25T19:00", "o": 3.192, "h": 3.369, "l": 3.047, "c": 3.202},
      {"t": "2024-12-25T23:00", "o": 3.205, "h": 3.208, "l": 3.011, "c": 3.053},
      {"t": "2024-12-26T03:00", "o": 3.053, "h": 3.098, "l": 2.959, "c": 2.971},
      {"t": "2024-12-26T07:00", "o": 2.971, "h": 3.026, "l": 2.948, "c": 2.987},
      {"t": "2024-12-26T11:00", "o": 2.992, "h": 3.015, "l": 2.928, "c": 2.993},
      {"t": "2024-12-26T15:00", "o": 2.992, "h": 2.995, "l": 2.699, "c": 2.787},
      {"t": "2024-12-26T19:00", "o": 2.788, "h": 2.997, "l": 2.761, "c": 2.915},
      {"t": "2024-12-26T23:00", "o": 2.920, "h": 2.992, "l": 2.848, "c": 2.921},
      {"t": "2024-12-27T03:00", "o": 2.917, "h": 2.981, "l": 2.853, "c": 2.898},
      {"t": "2024-12-27T07:00", "o": 2.901, "h": 2.954, "l": 2.820, "c": 2.832},
      {"t": "2024-12-27T11:00", "o": 2.832, "h": 2.962, "l": 2.830, "c": 2.878},
      {"t": "2024-12-27T15:00", "o": 2.878, "h": 3.018, "l": 2.811, "c": 2.978},
      {"t": "2024-12-27T19:00", "o": 2.978, "h": 3.039, "l": 2.872, "c": 3.028},
      {"t": "2024-12-27T23:00", "o": 3.026, "h": 3.079, "l": 2.954, "c": 3.023},
      {"t": "2024-12-28T03:00", "o": 3.023, "h": 3.030, "l": 2.910, "c": 3.028},
      {"t": "2024-12-28T07:00", "o": 3.030, "h": 3.079, "l": 2.885, "c": 2.896},
      {"t": "2024-12-28T11:00", "o": 2.896, "h": 2.905, "l": 2.805, "c": 2.819},
      {"t": "2024-12-28T15:00", "o": 2.822, "h": 2.856, "l": 2.769, "c": 2.798},
      {"t": "2024-12-28T19:00", "o": 2.798, "h": 2.900, "l": 2.796, "c": 2.878},
      {"t": "2024-12-28T23:00", "o": 2.878, "h": 3.181, "l": 2.869, "c": 3.030},
      {"t": "2024-12-29T03:00", "o": 3.030, "h": 3.089, "l": 2.879, "c": 2.922},
      {"t": "2024-12-29T07:00", "o": 2.922, "h": 3.002, "l": 2.837, "c": 2.907},
      {"t": "2024-12-29T11:00", "o": 2.907, "h": 2.943, "l": 2.870, "c": 2.924},
      {"t": "2024-12-29T15:00", "o": 2.924, "h": 2.956, "l": 2.860, "c": 2.886},
      {"t": "2024-12-29T19:00", "o": 2.889, "h": 2.962, "l": 2.869, "c": 2.887},
      {"t": "2024-12-29T23:00", "o": 2.885, "h": 2.907, "l": 2.803, "c": 2.844},
      {"t": "2024-12-30T03:00", "o": 2.848, "h": 2.962, "l": 2.843, "c": 2.888},
      {"t": "2024-12-30T07:00", "o": 2.888, "h": 3.027, "l": 2.869, "c": 2.980},
      {"t": "2024-12-30T11:00", "o": 2.981, "h": 3.039, "l": 2.834, "c": 2.872},
      {"t": "2024-12-30T15:00", "o": 2.872, "h": 2.916, "l": 2.785, "c": 2.791},
      {"t": "2024-12-30T19:00", "o": 2.794, "h": 2.879, "l": 2.776, "c": 2.824},
      {"t": "2024-12-30T23:00", "o": 2.824, "h": 3.018, "l": 2.820, "c": 2.978},
      {"t": "2024-12-31T03:00", "o": 2.978, "h": 3.081, "l": 2.894, "c": 3.021},
      {"t": "2024-12-31T07:00", "o": 3.028, "h": 3.072, "l": 2.930, "c": 3.029},
      {"t": "2024-12-31T11:00", "o": 3.027, "h": 3.244, "l": 3.018, "c": 3.207},
      {"t": "2024-12-31T15:00", "o": 3.207, "h": 3.7272, "l": 3.183, "c": 3.535},
      {"t": "2024-12-31T19:00", "o": 3.535, "h": 3.683, "l": 3.464, "c": 3.482},
      {"t": "2024-12-31T23:00", "o": 3.484, "h": 3.588, "l": 3.449, "c": 3.483},
      {"t": "2025-01-01T03:00", "o": 3.480, "h": 3.594, "l": 3.408, "c": 3.488},
      {"t": "2025-01-01T07:00", "o": 3.489, "h": 3.515, "l": 3.428, "c": 3.435},
      {"t": "2025-01-01T11:00", "o": 3.437, "h": 3.475, "l": 3.376, "c": 3.394},
      {"t": "2025-01-01T15:00", "o": 3.395, "h": 3.449, "l": 3.301, "c": 3.344},
      {"t": "2025-01-01T19:00", "o": 3.343, "h": 3.426, "l": 3.1976, "c": 3.297},
      {"t": "2025-01-01T23:00", "o": 3.297, "h": 3.410, "l": 3.220, "c": 3.355},
      {"t": "2025-01-02T03:00", "o": 3.360, "h": 3.749, "l": 3.292, "c": 3.508},
      {"t": "2025-01-02T07:00", "o": 3.508, "h": 3.626, "l": 3.350, "c": 3.470},
      {"t": "2025-01-02T11:00", "o": 3.473, "h": 3.483, "l": 3.374, "c": 3.405},
      {"t": "2025-01-02T15:00", "o": 3.407, "h": 3.442, "l": 3.272, "c": 3.348},
      {"t": "2025-01-02T19:00", "o": 3.3525, "h": 3.3889, "l": 3.2890, "c": 3.3388}
    ]
  }
}
